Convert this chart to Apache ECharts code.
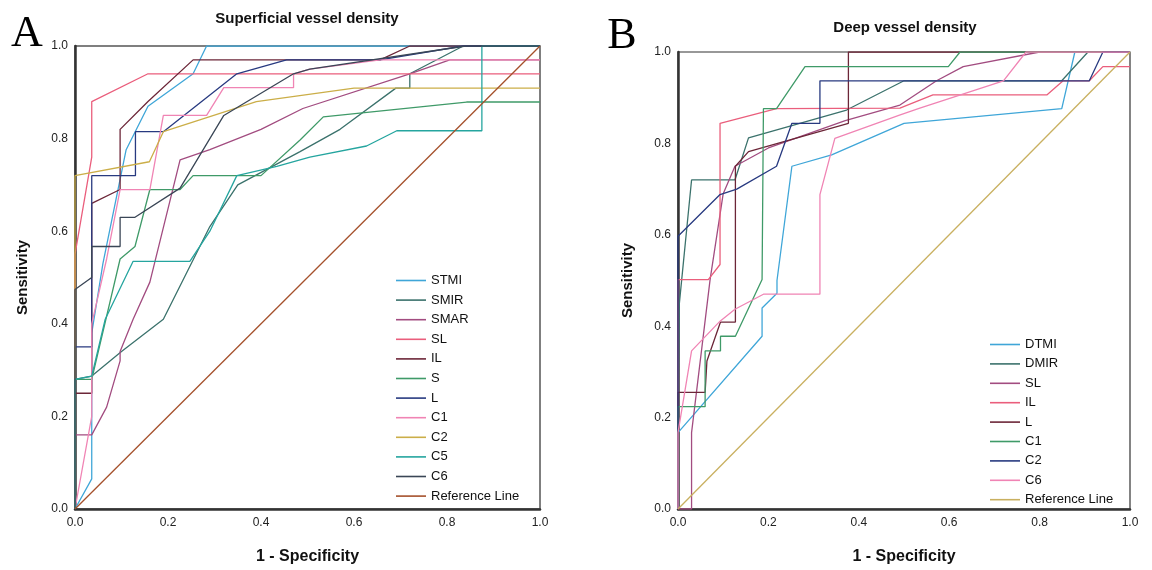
<!DOCTYPE html>
<html>
<head>
<meta charset="utf-8">
<script src="https://cdn.jsdelivr.net/npm/echarts@6/dist/echarts.min.js"></script>
<style>html,body{margin:0;padding:0;background:#fff}#c{width:1152px;height:570px}</style>
</head>
<body>
<div id="c"></div>
<script>
// ROC points: [1 - specificity, sensitivity]
// Panel A: Superficial vessel density
const STMI = [[0,0],[0.036,0.065],[0.036,0.38],[0.06,0.53],[0.11,0.776],[0.157,0.87],[0.254,0.94],[0.283,1],[1,1]];
const SMIR = [[0,0],[0,0.28],[0.036,0.287],[0.1,0.34],[0.19,0.41],[0.29,0.61],[0.35,0.7],[0.484,0.772],[0.57,0.82],[0.69,0.909],[0.72,0.909],[0.72,0.94],[0.835,1],[1,1]];
const SMAR = [[0,0],[0,0.16],[0.036,0.16],[0.068,0.22],[0.097,0.32],[0.097,0.34],[0.125,0.41],[0.161,0.49],[0.226,0.754],[0.29,0.776],[0.4,0.82],[0.49,0.865],[0.72,0.94],[0.806,0.97],[1,0.97]];
const SL_A = [[0,0],[0,0.55],[0.036,0.76],[0.036,0.88],[0.157,0.94],[1,0.94]];
const IL_A = [[0,0],[0,0.25],[0.036,0.25],[0.036,0.66],[0.097,0.69],[0.097,0.82],[0.157,0.88],[0.254,0.97],[0.656,0.97],[0.72,1],[1,1]];
const S_A = [[0,0],[0,0.28],[0.036,0.28],[0.097,0.54],[0.129,0.567],[0.161,0.69],[0.226,0.69],[0.254,0.72],[0.4,0.72],[0.484,0.797],[0.534,0.847],[0.842,0.879],[1,0.879]];
const L_A = [[0,0],[0,0.35],[0.036,0.35],[0.036,0.72],[0.13,0.72],[0.13,0.815],[0.19,0.815],[0.348,0.94],[0.455,0.97],[0.656,0.97],[0.835,1],[1,1]];
const C1_A = [[0,0],[0.036,0.2],[0.036,0.4],[0.068,0.54],[0.097,0.69],[0.161,0.69],[0.19,0.85],[0.283,0.85],[0.32,0.91],[0.47,0.91],[0.47,0.94],[0.505,0.95],[0.656,0.97],[1,0.97]];
const C2_A = [[0,0],[0,0.72],[0.16,0.75],[0.19,0.815],[0.39,0.88],[0.6,0.909],[1,0.909]];
const C5_A = [[0,0],[0,0.28],[0.036,0.287],[0.065,0.41],[0.125,0.535],[0.247,0.535],[0.29,0.6],[0.348,0.72],[0.434,0.74],[0.505,0.76],[0.627,0.784],[0.692,0.817],[0.875,0.817],[0.875,1],[1,1]];
const C6_A = [[0,0],[0,0.474],[0.036,0.5],[0.036,0.567],[0.097,0.567],[0.097,0.63],[0.129,0.63],[0.226,0.693],[0.32,0.85],[0.47,0.94],[0.505,0.95],[0.84,1],[1,1]];
const REF_A = [[0,0],[1,1]];

// Panel B: Deep vessel density
const DTMI = [[0,0],[0,0.167],[0.186,0.378],[0.186,0.44],[0.219,0.472],[0.219,0.5],[0.252,0.75],[0.34,0.775],[0.5,0.844],[0.849,0.876],[0.878,1],[1,1]];
const DMIR = [[0,0],[0,0.22],[0.003,0.45],[0.03,0.72],[0.126,0.72],[0.156,0.812],[0.373,0.873],[0.5,0.937],[0.849,0.937],[0.907,1],[1,1]];
const SL_B = [[0,0],[0.03,0],[0.03,0.167],[0.071,0.502],[0.1,0.69],[0.126,0.75],[0.2,0.79],[0.37,0.85],[0.491,0.884],[0.572,0.937],[0.631,0.968],[0.8,1],[1,1]];
const IL_B = [[0,0],[0,0.502],[0.067,0.502],[0.093,0.535],[0.093,0.844],[0.218,0.876],[0.491,0.877],[0.564,0.906],[0.816,0.906],[0.852,0.937],[0.91,0.937],[0.94,0.968],[1,0.968]];
const L_B = [[0,0],[0,0.255],[0.06,0.255],[0.064,0.324],[0.094,0.409],[0.127,0.409],[0.127,0.75],[0.156,0.782],[0.377,0.844],[0.377,1],[1,1]];
const C1_B = [[0,0],[0,0.224],[0.06,0.224],[0.06,0.346],[0.094,0.346],[0.094,0.378],[0.127,0.378],[0.186,0.502],[0.189,0.876],[0.218,0.876],[0.281,0.968],[0.598,0.968],[0.624,1],[1,1]];
const C2_B = [[0,0],[0,0.597],[0.093,0.688],[0.13,0.7],[0.218,0.75],[0.252,0.844],[0.314,0.844],[0.314,0.937],[0.91,0.937],[0.94,1],[1,1]];
const C6_B = [[0,0],[0,0.167],[0.03,0.346],[0.093,0.411],[0.126,0.437],[0.189,0.47],[0.314,0.47],[0.314,0.688],[0.347,0.811],[0.49,0.862],[0.535,0.877],[0.72,0.937],[0.77,1],[1,1]];
const REF_B = [[0,0],[1,1]];

const namesA = ['STMI','SMIR','SMAR','SL','IL','S','L','C1','C2','C5','C6','Reference Line'];
const dataA = [STMI, SMIR, SMAR, SL_A, IL_A, S_A, L_A, C1_A, C2_A, C5_A, C6_A, REF_A];
const namesB = ['DTMI','DMIR','SL','IL','L','C1','C2','C6','Reference Line'];
const dataB = [DTMI, DMIR, SL_B, IL_B, L_B, C1_B, C2_B, C6_B, REF_B];
const tickValues = [0, 0.2, 0.4, 0.6, 0.8, 1.0];

// SPSS-like palette
const colorsA = ['#3fa6d8','#3b726c','#a24c80','#ea5e7c','#6c2638','#3f9a68','#283a80','#f084b4','#cbae48','#25a59f','#3a4656','#a5512c'];
const colorsB = ['#3fa6d8','#3b726c','#a24c80','#ea5e7c','#6c2638','#3f9a68','#283a80','#f084b4','#c9b060'];

const chart = echarts.init(document.getElementById('c'), null, {renderer: 'canvas'});
const FONT = '"Liberation Sans", Arial, sans-serif';
const B = '\u00a0'; // suffix keeps panel-B series distinct from panel-A names

function axisX(gi) {
  return {
    type: 'value', gridIndex: gi, min: tickValues[0], max: tickValues[tickValues.length-1], interval: 0.2,
    name: '1 - Specificity', nameLocation: 'middle', nameGap: 40,
    nameTextStyle: {fontFamily: FONT, fontWeight: 'bold', fontSize: 16, color: '#111'},
    axisLine: {show: true, lineStyle: {color: '#333', width: 2.5}},
    axisTick: {show: false},
    axisLabel: {fontFamily: FONT, fontSize: 12, color: '#222', margin: 8, formatter: v => v.toFixed(1)},
    splitLine: {show: false}
  };
}
function axisY(gi, gap) {
  return {
    type: 'value', gridIndex: gi, min: tickValues[0], max: tickValues[tickValues.length-1], interval: 0.2,
    name: 'Sensitivity', nameLocation: 'middle', nameGap: gap, nameRotate: 90,
    nameTextStyle: {fontFamily: FONT, fontWeight: 'bold', fontSize: 15, color: '#111'},
    axisLine: {show: true, lineStyle: {color: '#333', width: 2.5}},
    axisTick: {show: false},
    axisLabel: {fontFamily: FONT, fontSize: 12, color: '#222', margin: 7, formatter: v => v.toFixed(1)},
    splitLine: {show: false}
  };
}

const series = [];
namesA.forEach((n, i) => series.push({
  name: n, type: 'line', xAxisIndex: 0, yAxisIndex: 0, data: dataA[i],
  symbol: 'none', color: colorsA[i], itemStyle: {color: colorsA[i]},
  lineStyle: {color: colorsA[i], width: 1.3}, silent: true
}));
namesB.forEach((n, i) => series.push({
  name: n + B, type: 'line', xAxisIndex: 1, yAxisIndex: 1, data: dataB[i],
  symbol: 'none', color: colorsB[i], itemStyle: {color: colorsB[i]},
  lineStyle: {color: colorsB[i], width: 1.3}, silent: true
}));

const legendBase = {
  orient: 'vertical', icon: 'rect', itemWidth: 30, itemHeight: 1.6,
  formatter: n => n.trim(), selectedMode: false
};

chart.setOption({
  animation: false,
  backgroundColor: '#fff',
  grid: [
    {left: 75, top: 46, width: 465, height: 464, show: true, borderColor: '#555', borderWidth: 1.5, backgroundColor: 'transparent'},
    {left: 678, top: 52, width: 452, height: 458, show: true, borderColor: '#333', borderWidth: 1.2, backgroundColor: 'transparent'}
  ],
  xAxis: [axisX(0), axisX(1)],
  yAxis: [axisY(0, 45), axisY(1, 43)],
  legend: [
    Object.assign({}, legendBase, {data: namesA, left: 391, top: 268, itemGap: 4.6,
      textStyle: {fontFamily: FONT, fontSize: 13, color: '#111', lineHeight: 15}}),
    Object.assign({}, legendBase, {data: namesB.map(n => n + B), left: 985, top: 332, itemGap: 4.4,
      textStyle: {fontFamily: FONT, fontSize: 13, color: '#111', lineHeight: 15}})
  ],
  graphic: [
    {type: 'text', x: 307, y: 19, style: {text: 'Superficial vessel density', font: 'bold 15px ' + FONT, fill: '#111', textAlign: 'center', textVerticalAlign: 'middle', verticalAlign: 'middle'}},
    {type: 'text', x: 905, y: 28, style: {text: 'Deep vessel density', font: 'bold 15px ' + FONT, fill: '#111', textAlign: 'center', textVerticalAlign: 'middle', verticalAlign: 'middle'}},
    {type: 'text', x: 27, y: 34, style: {text: 'A', font: '44px "Liberation Serif", "Times New Roman", serif', fill: '#000', textAlign: 'center', textVerticalAlign: 'middle', verticalAlign: 'middle'}},
    {type: 'text', x: 622, y: 36, style: {text: 'B', font: '44px "Liberation Serif", "Times New Roman", serif', fill: '#000', textAlign: 'center', textVerticalAlign: 'middle', verticalAlign: 'middle'}}
  ],
  series: series
});
</script>
</body>
</html>
